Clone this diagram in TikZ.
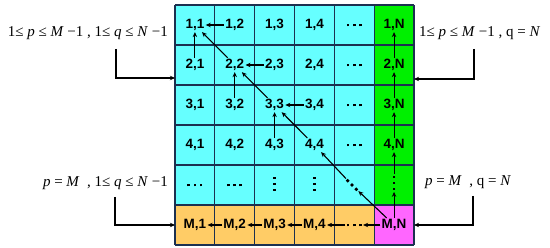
\documentclass[tikz,border=0pt]{standalone}
\usepackage{fontspec}
\setmainfont{Liberation Sans}
\newfontfamily\tms{Liberation Serif}
\usetikzlibrary{arrows.meta}
\definecolor{cy}{HTML}{66FFFF}
\definecolor{gr}{HTML}{00F000}
\definecolor{orng}{HTML}{FFCC66}
\definecolor{mag}{HTML}{FF66FF}
\definecolor{gridc}{HTML}{1C3050}
\newcommand\mydot{\rule{2.7pt}{2.7pt}}
\newcommand\mydots{\mydot\hspace{3.4pt}\mydot\hspace{3.4pt}\mydot}
\tikzset{
  cell/.style={inner sep=1.2pt, font=\bfseries\fontsize{13.5}{15}\selectfont},
  dotbox/.style={inner sep=1.2pt},
  arr/.style={-{Stealth[length=5pt,width=4.4pt]}, line width=1.1pt},
  lab/.style={inner sep=0pt, font=\tms\fontsize{15}{17}\selectfont},
  labarr/.style={-{Stealth[length=5pt,width=4.4pt]}, line width=1.1pt},
}
\begin{document}
\begin{tikzpicture}[x=1pt,y=-1pt]
\useasboundingbox (0,0) rectangle (550,248);
\def\cw{39.83}
% fills
\fill[cy] (175,5) rectangle (374.2,205);
\fill[gr] (374.2,5) rectangle (414,205);
\fill[orng] (175,205) rectangle (374.2,245);
\fill[mag] (374.2,205) rectangle (414,245);
% grid
\foreach \i in {0,...,6} {
  \draw[gridc, line width=1.2pt] ({175+\cw*\i},5) -- ({175+\cw*\i},245);
  \draw[gridc, line width=1.2pt] (175,{5+40*\i}) -- (414,{5+40*\i});
}
% numbered cells
\foreach \r in {1,...,4} {
  \foreach \c in {1,...,4} {
    \node[cell] (c\r\c) at ({175+\cw*(\c-0.5)},{5+40*(\r-0.5)}) {\r,\c};
  }
  \node[dotbox] (d\r5) at ({175+\cw*4.5},{5+40*(\r-0.5)}) {\mydots};
  \node[cell] (c\r N) at ({175+\cw*5.5},{5+40*(\r-0.5)}) {\r,N};
}
% row 5
\node[dotbox] (d51) at ({175+\cw*0.5},185) {\mydots};
\node[dotbox] (d52) at ({175+\cw*1.5},185) {\mydots};
\node[dotbox, rotate=90] (d53) at ({175+\cw*2.5},184) {\mydots};
\node[dotbox, rotate=90] (d54) at ({175+\cw*3.5},184) {\mydots};
\node[dotbox, rotate=-45] (d55) at (352,185) {\mydots};
\node[dotbox, rotate=90] (d56) at ({175+\cw*5.5},183) {\mydots};
% row 6
\foreach \c in {1,...,4} {
  \node[cell] (m\c) at ({175+\cw*(\c-0.5)},225) {M,\c};
}
\node[dotbox] (m5) at ({175+\cw*4.5},225) {\mydots};
\node[cell] (mn) at ({175+\cw*5.5},225) {M,N};
% arrows in grid
\draw[arr] (c12) -- (c11);
\draw[arr] (c21) -- (c11);
\draw[arr] (c22) -- (c11);
\draw[arr] (c23) -- (c22);
\draw[arr] (c32) -- (c22);
\draw[arr] (c33) -- (c22);
\draw[arr] (c34) -- (c33);
\draw[arr] (c43) -- (c33);
\draw[arr] (c44) -- (c33);
\draw[arr] (d55) -- (c44);
\draw[arr] (mn) -- (d55);
\draw[arr] (c2N) -- (c1N);
\draw[arr] (c3N) -- (c2N);
\draw[arr] (c4N) -- (c3N);
\draw[arr] (d56) -- (c4N);
\draw[arr] (mn) -- (d56);
\draw[arr] (m2) -- (m1);
\draw[arr] (m3) -- (m2);
\draw[arr] (m4) -- (m3);
\draw[arr] (m5) -- (m4);
\draw[arr] (mn) -- (m5);
% labels
\node[lab, anchor=east] (L1) at (168,33) {1≤ \textit{p} ≤ \textit{M} −1 , 1≤ \textit{q} ≤ \textit{N} −1};
\node[lab, anchor=west] (L2) at (419,33) {1≤ \textit{p} ≤ \textit{M} −1 , q = \textit{N}};
\node[lab, anchor=east] (L3) at (168,183) {\textit{p} = \textit{M} \ , 1≤ \textit{q} ≤ \textit{N} −1};
\node[lab, anchor=west] (L4) at (425,182) {\textit{p} = \textit{M} \ , q = \textit{N}};
\coordinate (s1) at (116,49);
\coordinate (t1) at (175,78);
\coordinate (s2) at (474,49);
\coordinate (t2) at (414,79);
\coordinate (s3) at (115,197);
\coordinate (t3) at (175,225);
\coordinate (s4) at (473,196);
\coordinate (t4) at (414,225);
\draw[labarr] (s1) |- (t1);
\draw[labarr] (s2) |- (t2);
\draw[labarr] (s3) |- (t3);
\draw[labarr] (s4) |- (t4);
\end{tikzpicture}
\end{document}
